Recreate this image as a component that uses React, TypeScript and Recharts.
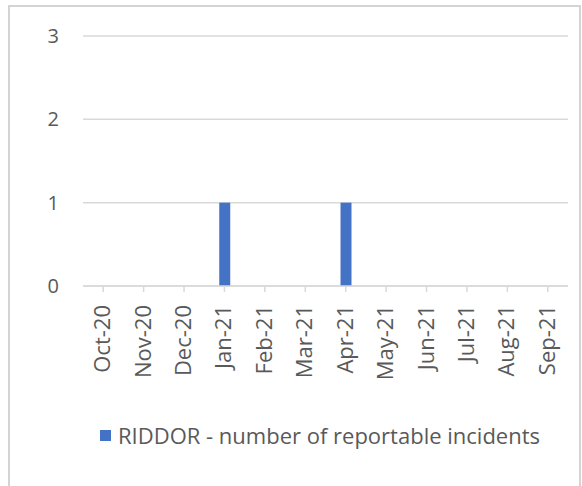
import { BarChart, Bar, XAxis, YAxis, CartesianGrid, Legend } from 'recharts';

const months = ['Oct-20', 'Nov-20', 'Dec-20', 'Jan-21', 'Feb-21', 'Mar-21', 'Apr-21', 'May-21', 'Jun-21', 'Jul-21', 'Aug-21', 'Sep-21'];
const incidents = [0, 0, 0, 1, 0, 0, 1, 0, 0, 0, 0, 0];
const yTicks = [0, 1, 2, 3];

const chartData = months.map((month, i) => ({
  month,
  riddor: incidents[i]
}));

const font = 'Open Sans, sans-serif';

function MonthTick({ x, y, payload }: any) {
  return (
    <text
      x={x}
      y={y}
      transform={`rotate(-90, ${x}, ${y}) translate(-11, 7)`}
      textAnchor="end"
      fill="#595959"
      fontSize={22}
      fontFamily={font}
    >
      {payload.value}
    </text>
  );
}

function LegendContent() {
  return (
    <div style={{ display: 'flex', alignItems: 'center', paddingLeft: 100, fontFamily: font, fontSize: 22, color: '#595959' }}>
      <span style={{ display: 'inline-block', width: 11, height: 11, background: '#4472C4', marginRight: 7 }} />
      <span>RIDDOR - number of reportable incidents</span>
    </div>
  );
}

export default function App() {
  return (
    <div style={{ position: 'absolute', left: 0, top: 0, width: 582, height: 486, background: '#fff', overflow: 'hidden' }}>
      <BarChart width={582} height={486} data={chartData} margin={{ top: 36, right: 14, left: 0, bottom: 0 }}>
        <CartesianGrid vertical={false} stroke="#d9d9d9" strokeWidth={1.5} />
        <XAxis
          dataKey="month"
          interval={0}
          height={134}
          stroke="#d9d9d9"
          strokeWidth={1.5}
          tickSize={6}
          tick={<MonthTick />}
        />
        <YAxis
          domain={[0, 3]}
          ticks={yTicks}
          width={83}
          axisLine={false}
          tickLine={false}
          tick={{ fill: '#595959', fontSize: 20, fontFamily: font, dx: -16 }}
        />
        <Legend verticalAlign="bottom" height={66} content={<LegendContent />} />
        <Bar dataKey="riddor" fill="#4472C4" barSize={11} isAnimationActive={false} />
      </BarChart>
      <svg width={582} height={486} style={{ position: 'absolute', left: 0, top: 0, pointerEvents: 'none' }}>
        <rect x={9} y={6} width={571} height={500} fill="none" stroke="#d4d4d4" strokeWidth={2} />
      </svg>
    </div>
  );
}
